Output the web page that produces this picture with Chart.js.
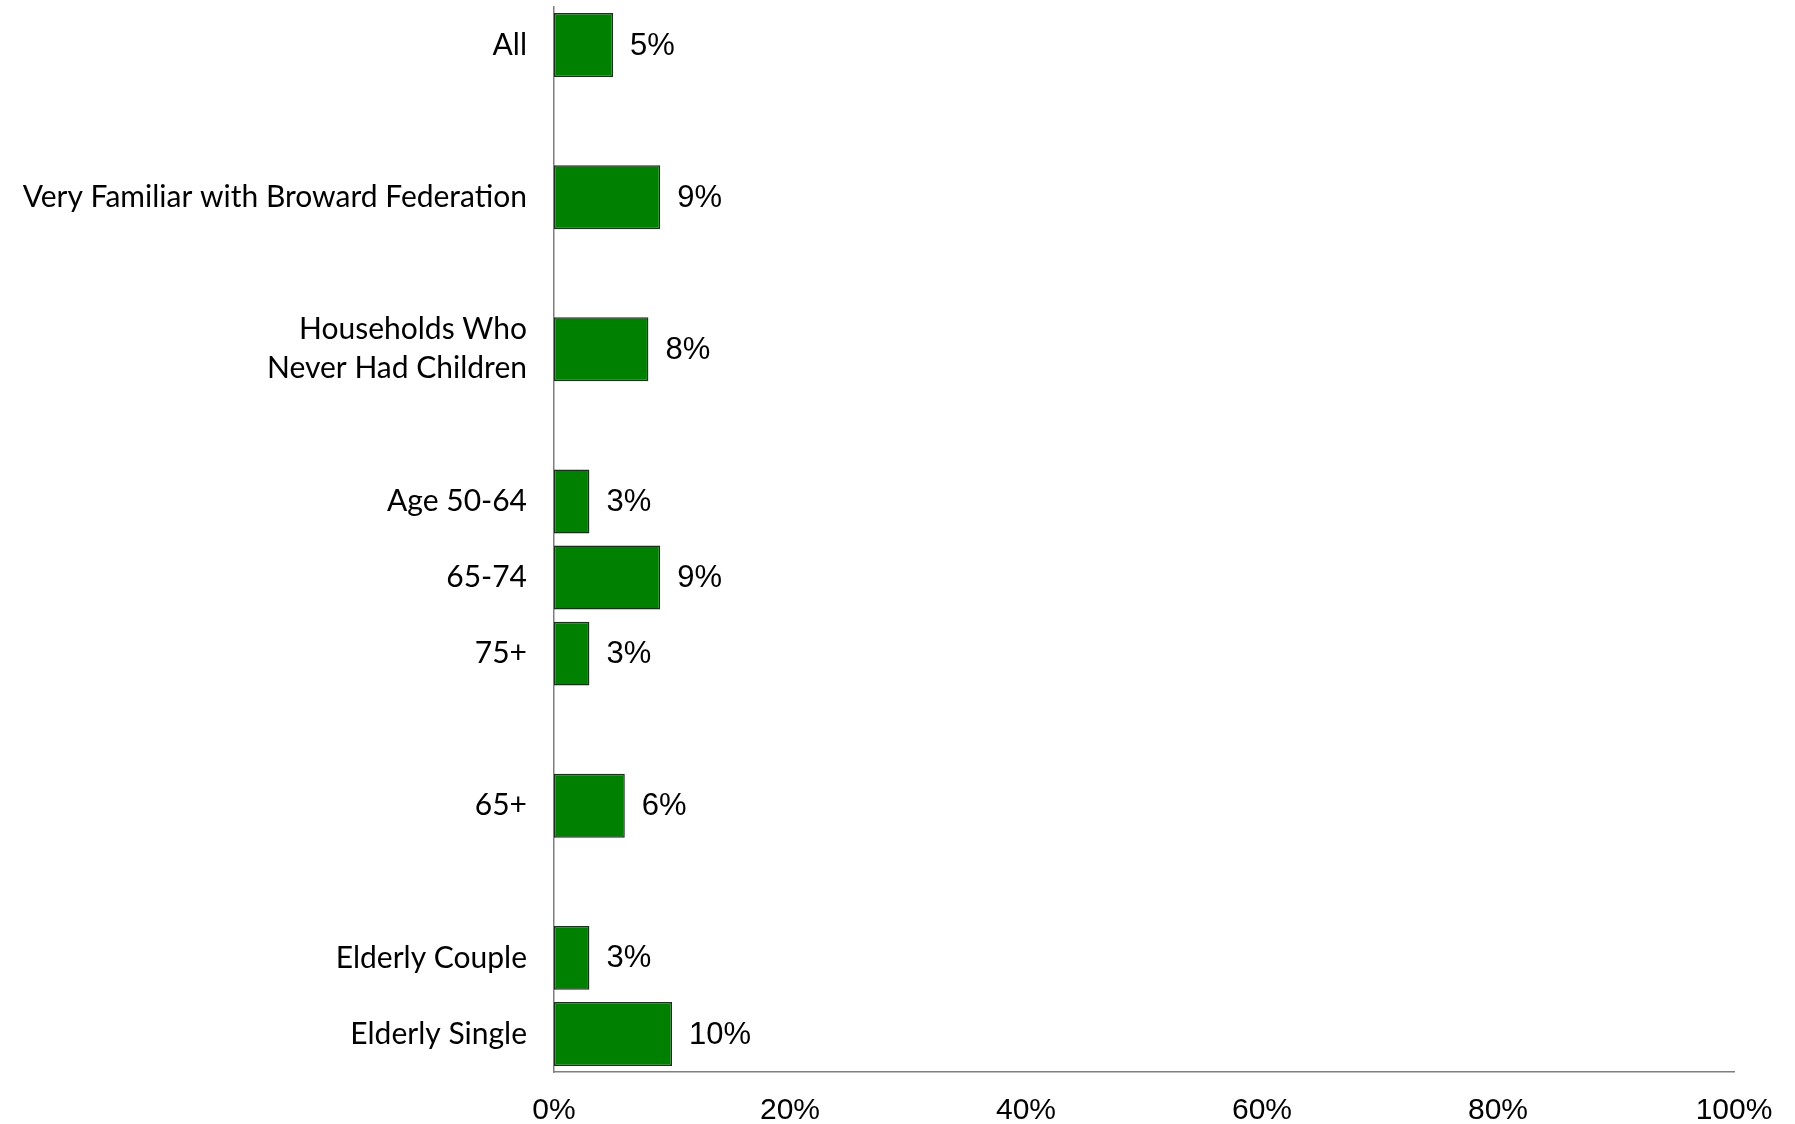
<!DOCTYPE html>
<html>
<head>
<meta charset="utf-8">
<script src="https://cdn.jsdelivr.net/npm/chart.js@4"></script>
<style>
  html, body { margin: 0; padding: 0; background: #fff; }
  #wrap { width: 1795px; height: 1124px; }
</style>
</head>
<body>
<div id="wrap"><canvas id="grafico"></canvas></div>
<script>
// empty labels are the spacer rows between groups
const categorias = ["All", "", "Very Familiar with Broward Federation", "", ["Households Who", "Never Had Children"], "",
    "Age 50-64", "65-74", "75+", "", "65+", "", "Elderly Couple", "Elderly Single"];
const valores = [5, null, 9, null, 8, null, 3, 9, 3, null, 6, null, 3, 10];
const ticksX = [0, 20, 40, 60, 80, 100];

const rotulos = {
    id: 'rotulos',
    afterDatasetsDraw(chart) {
        const ctx = chart.ctx;
        const meta = chart.getDatasetMeta(0);
        ctx.save();
        ctx.font = '31px "Liberation Sans", Arial, sans-serif';
        ctx.fillStyle = '#000';
        ctx.textBaseline = 'middle';
        meta.data.forEach((bar, i) => {
            if (valores[i] == null) return;
            ctx.fillText(valores[i] + '%', bar.x + 17, bar.y + 1);
        });
        ctx.restore();
    }
};

const ctx = document.getElementById('grafico');
new Chart(ctx, {
    type: 'bar',
    data: {
        labels: categorias,
        datasets: [{
            data: valores,
            backgroundColor: '#008000',
            borderColor: '#173317',
            borderWidth: 1.5,
            borderSkipped: false,
            barPercentage: 0.84,
            categoryPercentage: 1
        }]
    },
    options: {
        indexAxis: 'y',
        responsive: true,
        maintainAspectRatio: false,
        animation: false,
        layout: { padding: { top: 7, right: 61, left: 0, bottom: 0 } },
        plugins: {
            legend: { display: false },
            tooltip: { enabled: false }
        },
        scales: {
            x: {
                min: 0,
                max: 100,
                afterFit: (s) => { s.height = 52; },
                afterBuildTicks: (s) => { s.ticks = ticksX.map(v => ({ value: v })); },
                grid: { display: false, drawTicks: false },
                border: { display: true, color: '#7f7f7f', width: 1.5 },
                ticks: {
                    padding: 21,
                    color: '#000',
                    font: { family: '"Liberation Sans", Arial, sans-serif', size: 30 },
                    callback: (v) => v + '%'
                }
            },
            y: {
                afterFit: (s) => { s.width = 554; s.paddingTop = 0; s.paddingBottom = 0; },
                grid: { display: false, drawTicks: false },
                border: { display: true, color: '#7f7f7f', width: 1.5 },
                ticks: {
                    padding: 27,
                    color: '#000',
                    autoSkip: false,
                    font: { family: 'Lato, "Open Sans", sans-serif', size: 30, lineHeight: 1.3 }
                }
            }
        }
    },
    plugins: [rotulos]
});
</script>
</body>
</html>
